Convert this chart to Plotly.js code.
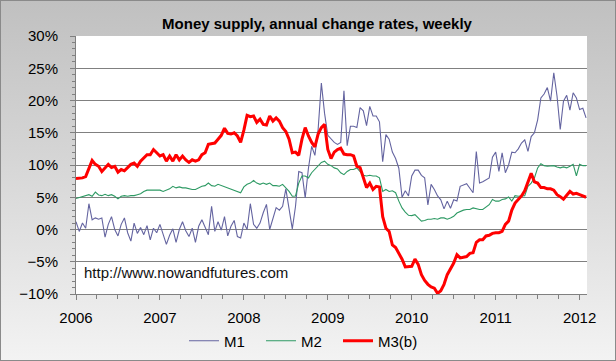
<!DOCTYPE html>
<html><head><meta charset="utf-8">
<script src="https://cdn.plot.ly/plotly-3.0.1.min.js"></script>
<style>
html,body{margin:0;padding:0;background:#fff;}
#wrap{position:relative;width:616px;height:361px;background:linear-gradient(to bottom,#c0c0c0 0%,#d6d6d6 45%,#f3f3f3 100%);}
#chart{position:absolute;left:0;top:0;width:616px;height:361px;}
#frame{position:absolute;left:0;top:0;width:614px;height:359px;border:1px solid #8a8a8a;pointer-events:none;z-index:5;}
</style></head>
<body><div id="wrap"><div id="chart"></div><div id="frame"></div></div>
<script>
// Weekly series sampled every two weeks, starting at the beginning of 2006
const START_YEAR = 2006;
const STEPS_PER_YEAR = 26;

const titleText = 'Money supply, annual change rates, weekly';
const sourceText = 'http://www.nowandfutures.com';
const seriesNames = ['M1', 'M2', 'M3(b)'];
const yearTicks = [2006, 2007, 2008, 2009, 2010, 2011, 2012];

const m1 = [
 1.2,-0.3,1.0,0.2,4.0,1.5,1.8,1.6,1.8,-1.2,
 0.8,2.0,0.0,-1.0,0.8,1.8,-0.5,-1.8,1.0,-0.6,
 0.3,-0.8,0.6,-1.6,0.2,-0.5,0.8,-0.6,-2.3,-0.9,
 0.1,-2.0,0.0,1.2,-0.2,-1.1,0.2,-2.0,0.5,1.5,
 0.3,-0.8,3.6,-0.3,1.2,-0.1,2.0,-1.0,0.5,1.4,
 -1.1,-1.3,1.0,0.0,4.0,0.8,0.2,1.0,2.6,3.9,
 0.0,1.8,3.4,3.0,3.6,6.3,3.0,0.1,3.6,9.0,
 8.8,4.9,9.5,12.9,11.5,15.5,22.7,18.0,14.6,14.0,
 13.5,13.2,13.5,21.5,13.0,16.0,16.0,15.8,18.9,18.4,
 16.1,19.1,17.6,17.6,16.7,10.5,14.7,14.0,12.0,11.0,
 9.5,5.0,6.0,5.2,8.3,9.2,9.2,8.4,8.0,3.8,
 7.0,6.2,5.2,4.6,3.2,4.4,3.3,4.6,4.4,6.7,
 6.9,7.1,6.4,5.7,12.1,7.2,7.4,7.7,8.0,11.2,
 12.0,9.0,11.9,8.8,10.0,12.0,11.9,12.5,13.4,13.9,
 12.1,14.4,15.0,17.0,20.4,21.0,22.0,19.9,24.3,20.7,
 15.5,19.9,20.8,18.5,21.2,20.4,18.6,18.8,17.3
];

const m2 = [
 4.8,4.95,5.15,5.25,5.4,5.15,5.8,5.35,5.25,5.45,
 5.25,5.4,5.15,4.75,5.15,5.25,5.15,5.25,5.25,5.4,
 5.55,5.9,6.1,6.1,6.1,6.2,6.1,5.9,6.1,6.3,
 6.7,6.45,6.6,6.45,6.45,6.3,6.2,6.2,6.45,6.7,
 6.8,7.2,6.8,6.7,7.0,6.8,6.6,6.45,6.3,6.1,
 5.9,5.7,6.6,7.0,7.2,7.6,7.2,7.0,7.2,7.0,
 7.2,6.8,6.8,6.7,7.0,6.45,5.9,5.15,5.2,7.2,
 8.3,8.3,8.0,8.8,9.3,9.8,10.4,10.6,10.1,9.9,
 9.55,9.4,8.8,8.5,9.0,9.3,9.3,9.55,9.0,8.4,
 8.3,8.4,8.3,8.3,8.0,5.9,6.2,5.9,6.0,5.7,
 4.4,3.35,2.7,2.2,2.15,2.3,1.8,1.3,1.4,1.6,
 1.6,1.7,1.6,1.8,1.8,1.6,1.8,2.05,2.55,2.8,
 3.0,3.1,3.1,3.35,3.2,3.1,3.1,3.5,3.85,4.65,
 4.4,4.4,4.65,4.75,5.05,4.4,5.25,5.15,5.15,5.25,
 6.7,7.2,8.0,9.55,10.2,9.9,9.8,9.9,9.9,9.7,
 9.55,9.7,9.55,9.8,10.1,8.3,10.1,9.9,9.9
];

const m3 = [
 7.9,7.9,8.0,8.2,9.6,10.7,10.1,9.8,9.0,9.6,
 10.1,9.6,9.8,8.9,9.3,9.1,9.6,10.1,10.3,9.8,
 10.6,11.1,11.6,11.6,12.4,11.9,11.4,11.6,10.6,11.4,
 10.6,11.6,10.8,11.4,10.8,10.4,10.8,10.6,10.8,11.6,
 11.9,13.2,13.3,13.4,14.0,14.6,15.7,14.9,14.8,15.0,
 14.5,13.5,15.4,17.7,17.5,17.6,16.6,17.1,16.3,16.2,
 17.6,16.8,17.3,16.8,15.8,15.2,14.0,11.9,12.0,11.5,
 14.0,15.8,14.5,13.5,12.8,14.8,15.8,16.3,12.4,11.0,
 12.0,12.4,12.6,11.7,11.6,11.6,11.4,9.8,9.6,8.0,
 6.5,7.2,6.2,6.7,6.6,2.0,0.2,-0.3,-2.4,-2.8,
 -3.6,-4.6,-5.8,-5.8,-5.7,-4.6,-5.4,-7.0,-7.9,-8.5,
 -8.9,-9.1,-9.9,-9.5,-8.5,-7.0,-6.0,-5.2,-3.9,-4.4,
 -4.3,-4.2,-3.7,-3.6,-2.0,-1.6,-1.6,-1.0,-0.9,-0.6,
 -0.5,-0.5,-0.3,0.8,1.3,3.0,4.1,4.6,5.2,6.0,
 7.5,8.7,7.4,7.2,6.5,6.5,6.3,6.3,6.1,5.4,
 5.1,4.7,5.3,5.9,5.5,5.6,5.4,5.2,5.0
];

const xs = m1.map((_, i) => START_YEAR + i / STEPS_PER_YEAR);
const FONT = 'Liberation Sans, Arial, sans-serif';

const traces = [
  {x: xs, y: m1, name: seriesNames[0], type: 'scatter', mode: 'lines', legend: 'legend',
   line: {color: '#6464a0', width: 1.1}},
  {x: xs, y: m2, name: seriesNames[1], type: 'scatter', mode: 'lines', legend: 'legend2',
   line: {color: '#2e9a64', width: 1.1}},
  {x: xs, y: m3, name: seriesNames[2], type: 'scatter', mode: 'lines', legend: 'legend3',
   line: {color: '#ff0000', width: 3}}
];

function legendAt(px) {
  return {orientation: 'h', xref: 'container', yref: 'container',
          x: px / 616, xanchor: 'left', y: 20 / 361, yanchor: 'middle',
          bgcolor: 'rgba(0,0,0,0)', font: {family: FONT, size: 15, color: '#000'}};
}

const layout = {
  width: 616, height: 361,
  margin: {l: 76, r: 29, t: 36, b: 67, pad: 0},
  paper_bgcolor: 'rgba(0,0,0,0)',
  plot_bgcolor: '#ffffff',
  font: {family: FONT, size: 15, color: '#000'},
  title: {text: '<b>' + titleText + '</b>', font: {family: FONT, size: 15, color: '#000'},
          xref: 'container', yref: 'container', x: 317/616, xanchor: 'center',
          y: 1 - 23.5/361, yanchor: 'middle'},
  xaxis: {
    range: [2006, 2012.088], tickvals: yearTicks, ticktext: yearTicks.map(String),
    showgrid: false, zeroline: false, showline: true, linecolor: '#808080', linewidth: 1,
    ticks: 'outside', ticklen: 5, tickcolor: '#808080', tickwidth: 1,
    ticklabelstandoff: 5,
    minor: {dtick: 0.25, tick0: 2006, ticks: 'outside', ticklen: 4, tickcolor: '#808080', showgrid: false},
    tickfont: {family: FONT, size: 15, color: '#000'}
  },
  yaxis: {
    range: [-10, 30], dtick: 5, tick0: -10, ticksuffix: '%',
    showgrid: true, gridcolor: '#808080', gridwidth: 1, zeroline: false,
    showline: true, linecolor: '#808080', linewidth: 1,
    ticks: 'outside', ticklen: 5, tickcolor: '#808080', tickwidth: 1,
    ticklabelstandoff: 9,
    minor: {dtick: 1, ticks: 'outside', ticklen: 3, tickcolor: '#808080', showgrid: false},
    tickfont: {family: FONT, size: 15, color: '#000'}
  },
  showlegend: true,
  legend: legendAt(184),
  legend2: legendAt(261),
  legend3: legendAt(338),
  annotations: [{
    text: sourceText, xref: 'paper', yref: 'paper',
    x: (81.5 - 76) / 511, xanchor: 'left', y: (294 - 272.3) / 258, yanchor: 'middle',
    showarrow: false, font: {family: FONT, size: 15, color: '#111'}
  }]
};

Plotly.newPlot('chart', traces, layout, {staticPlot: true, displayModeBar: false});
</script>
</body></html>
